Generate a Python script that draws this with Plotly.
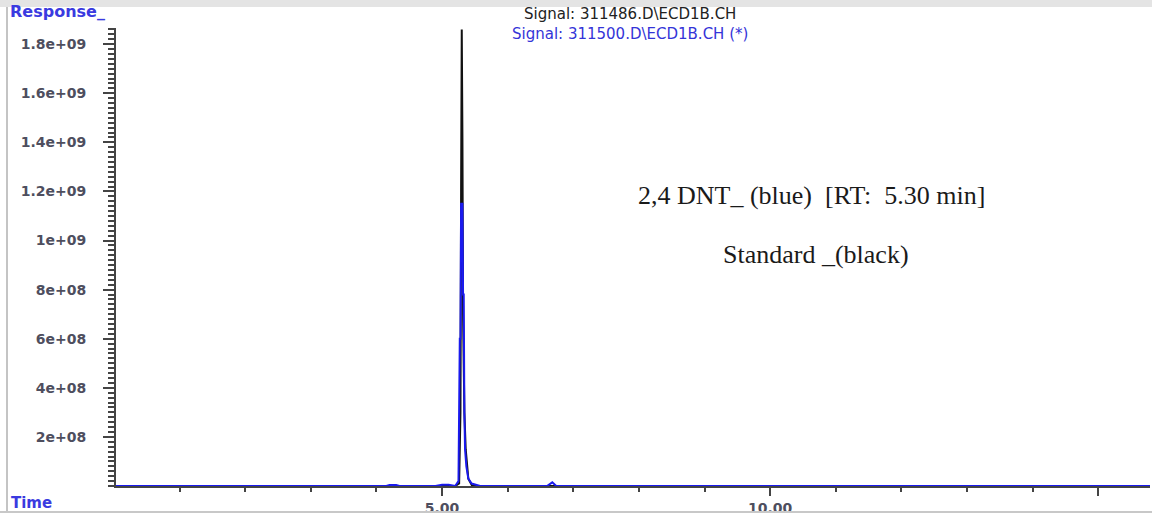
import plotly.graph_objects as go

# Standard (black) signal 311486.D
std_time = [0.0, 5.20, 5.26, 5.28, 5.29, 5.30, 5.31, 5.32, 5.34, 5.36, 5.40, 5.46, 15.8]
std_resp = [0, 0, 1.0e7, 3.0e8, 1.2e9, 1.86e9, 1.42e9, 7.0e8, 3.0e8, 1.5e8, 3.0e7, 0, 0]

# 2,4 DNT (blue) signal 311500.D
blue_time = [0.0, 4.15, 4.20, 4.30, 4.35, 4.90, 5.00, 5.10, 5.20, 5.25, 5.27, 5.28, 5.29,
             5.31, 5.32, 5.33, 5.34, 5.35, 5.37, 5.40, 5.45, 5.58, 6.60, 6.68, 6.74, 15.8]
blue_resp = [0, 0, 4e6, 4e6, 0, 0, 5e6, 5e6, 0, 2.0e7, 6.0e8, 6.0e8, 1.15e9,
             1.15e9, 7.8e8, 7.8e8, 3.0e8, 1.5e8, 8.0e7, 3.0e7, 1.0e7, 0, 0, 1.5e7, 0, 0]

x_tickvals = [5, 10, 15]
x_ticktext = ["5.00", "10.00", ""]
y_tickvals = [2e8, 4e8, 6e8, 8e8, 1e9, 1.2e9, 1.4e9, 1.6e9, 1.8e9]
y_ticktext = ["2e+08", "4e+08", "6e+08", "8e+08", "1e+09", "1.2e+09", "1.4e+09", "1.6e+09", "1.8e+09"]

fig = go.Figure()
fig.add_trace(go.Scatter(x=std_time, y=std_resp, mode="lines",
                         line=dict(color="#111111", width=2), showlegend=False))
fig.add_trace(go.Scatter(x=blue_time, y=blue_resp, mode="lines",
                         line=dict(color="#1a1aee", width=2), showlegend=False))

tickfont = dict(family="DejaVu Sans", size=14, color="#4e4e5e", weight="bold")
fig.update_xaxes(range=[0.03, 15.79], tickvals=x_tickvals, ticktext=x_ticktext,
                 ticks="outside", ticklen=8, tickwidth=2, tickcolor="#444",
                 showline=True, linecolor="#444", linewidth=2, showgrid=False,
                 zeroline=False, tickfont=tickfont, layer="above traces",
                 minor=dict(dtick=1, tick0=0, ticks="outside", ticklen=4,
                            tickwidth=2, tickcolor="#444"))
fig.update_yaxes(range=[0, 1.866e9], tickvals=y_tickvals, ticktext=y_ticktext,
                 ticks="outside", ticklen=11, tickwidth=2, tickcolor="#444",
                 showline=True, linecolor="#444", linewidth=2, showgrid=False,
                 zeroline=False, tickfont=tickfont, ticklabelstandoff=14,
                 minor=dict(dtick=2e7, tick0=0, ticks="outside", ticklen=6,
                            tickwidth=1.5, tickcolor="#444"))

W = 1034.0
H = 460.0
def px(x):
    return (x - 116) / W
def py(y):
    return (488 - y) / H

shapes = [
    dict(type="rect", xref="paper", yref="paper", x0=px(0), x1=px(1152), y0=py(7), y1=py(0),
         fillcolor="#e4e4e4", line=dict(width=0), layer="below"),
    dict(type="line", xref="paper", yref="paper", x0=px(7), x1=px(7), y0=py(7), y1=py(514),
         line=dict(color="#b0b0b0", width=1.5)),
    dict(type="line", xref="paper", yref="paper", x0=px(0), x1=px(1152), y0=py(514), y1=py(514),
         line=dict(color="#c8c8c8", width=2)),
]

annotations = [
    dict(text="Signal: 311486.D\\ECD1B.CH", x=px(630), y=py(14), xref="paper", yref="paper",
         showarrow=False, xanchor="center", yanchor="middle",
         font=dict(family="DejaVu Sans", size=15, color="#222222")),
    dict(text="Signal: 311500.D\\ECD1B.CH (*)", x=px(630), y=py(34), xref="paper", yref="paper",
         showarrow=False, xanchor="center", yanchor="middle",
         font=dict(family="DejaVu Sans", size=15, color="#3434d8")),
    dict(text="Response_", x=px(8), y=py(11), xref="paper", yref="paper",
         showarrow=False, xanchor="left", yanchor="middle",
         font=dict(family="DejaVu Sans", size=16, color="#3a3ae0", weight="bold")),
    dict(text="Time", x=px(9), y=py(505), xref="paper", yref="paper",
         showarrow=False, xanchor="left", yanchor="middle",
         font=dict(family="DejaVu Sans", size=15, color="#3a3ae0", weight="bold")),
    dict(text="2,4 DNT_ (blue)\u00a0 [RT:\u00a0 5.30 min]", x=px(811), y=py(196), xref="paper", yref="paper",
         showarrow=False, xanchor="center", yanchor="middle",
         font=dict(family="Liberation Serif", size=26, color="#1a1a1a")),
    dict(text="Standard _(black)", x=px(816), y=py(255), xref="paper", yref="paper",
         showarrow=False, xanchor="center", yanchor="middle",
         font=dict(family="Liberation Serif", size=26, color="#1a1a1a")),
]

fig.update_layout(width=1152, height=518, margin=dict(l=116, r=2, t=28, b=30),
                  paper_bgcolor="white", plot_bgcolor="white",
                  shapes=shapes, annotations=annotations, showlegend=False)

fig.write_html("out.html")
